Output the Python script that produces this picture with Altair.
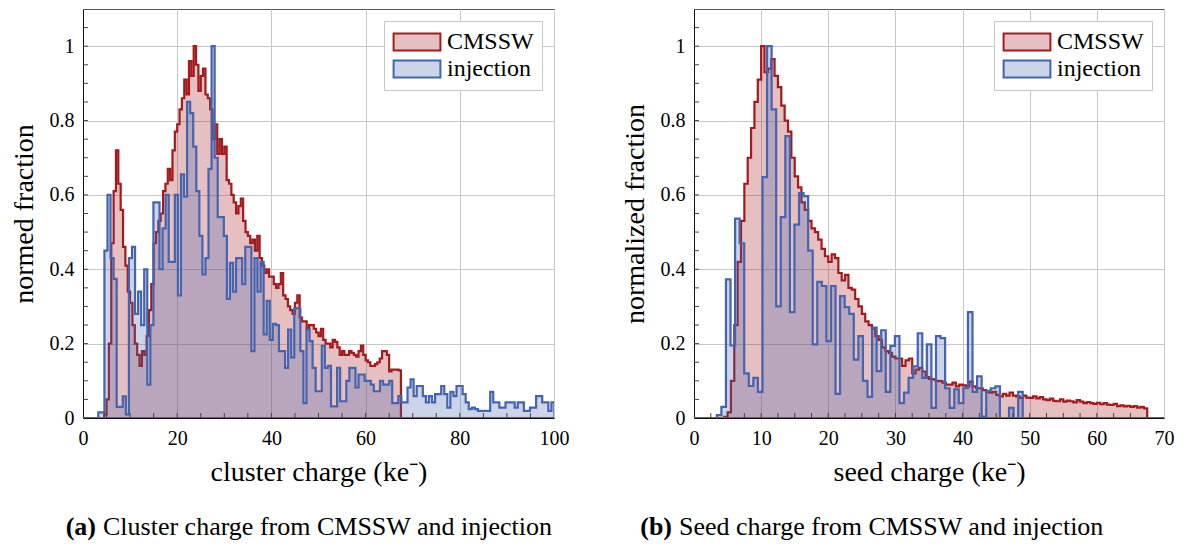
import altair as alt
import pandas as pd

FONT = "Liberation Serif"
SERIES = ["CMSSW", "injection"]
STROKES = ["#a31a1d", "#4464b0"]
FILLS = ["rgba(166,28,31,0.28)", "rgba(68,100,176,0.28)"]

# ---------------- panel (a): cluster charge ----------------
A_CMSSW_W = 0.5
A_CMSSW = [
    0, 0, 0, 0, 0, 0, 0, 0, 0, 0.01,
    0.05, 0.20, 0.47, 0.61, 0.72, 0.63, 0.56, 0.46, 0.41, 0.34,
    0.31, 0.25, 0.20, 0.17, 0.14, 0.18, 0.17, 0.22, 0.29, 0.36,
    0.47, 0.50, 0.53, 0.55, 0.61, 0.63, 0.67, 0.64, 0.72, 0.77,
    0.79, 0.83, 0.86, 0.91, 0.87, 0.96, 0.92, 1.00, 0.95, 0.88,
    0.92, 0.94, 0.87, 0.86, 0.83, 0.75, 0.79, 0.71, 0.75, 0.71,
    0.73, 0.64, 0.63, 0.60, 0.58, 0.55, 0.57, 0.59, 0.53, 0.50,
    0.49, 0.47, 0.48, 0.45, 0.49, 0.43, 0.41, 0.39, 0.40, 0.38,
    0.38, 0.36, 0.35, 0.36, 0.39, 0.33, 0.32, 0.30, 0.29, 0.28,
    0.31, 0.33, 0.27, 0.26, 0.26, 0.24, 0.25, 0.25, 0.24, 0.23,
    0.22, 0.24, 0.21, 0.20, 0.20, 0.19, 0.21, 0.205, 0.19, 0.17,
    0.18, 0.17, 0.17, 0.18, 0.175, 0.17, 0.165, 0.18, 0.195, 0.17,
    0.155, 0.15, 0.14, 0.14, 0.145, 0.15, 0.16, 0.18, 0.18, 0.17,
    0.125, 0.13, 0.13, 0.13, 0.128,
]
A_INJ_W = 0.65
A_INJ = [
    0, 0, 0, 0, 0, 0.015, 0.015,
    0.45, 0.60, 0.43, 0.374, 0.03, 0.03, 0.058, 0.01, 0.43, 0.46,
    0.28, 0.34, 0.25, 0.40, 0.09, 0.25, 0.58, 0.58, 0.40, 0.51,
    0.60, 0.42, 0.42, 0.60, 0.33, 0.655, 0.595, 0.85, 0.82, 0.73,
    0.61, 0.49, 0.386, 0.43, 0.67,
    1.00, 0.70, 0.54, 0.54, 0.49, 0.32, 0.417, 0.34, 0.43, 0.43,
    0.36, 0.46, 0.46, 0.18, 0.43, 0.34, 0.42, 0.225, 0.315, 0.21,
    0.253, 0.25, 0.18, 0.18, 0.135, 0.238, 0.163, 0.295, 0.295, 0.18,
    0.04, 0.238, 0.207, 0.135, 0.072, 0.072, 0.194, 0.135, 0.14, 0.031,
    0.031, 0.135, 0.045, 0.045, 0.10, 0.135, 0.135, 0.082, 0.117, 0.117,
    0.10, 0.10, 0.09, 0.072, 0.072, 0.10, 0.09, 0.09, 0.10, 0.04, 0.04,
    0.059, 0.042, 0.042, 0.082, 0.104, 0.059, 0.086, 0.086, 0.059, 0.042,
    0.059, 0.042, 0.064, 0.064, 0.086, 0.064, 0.028, 0.07, 0.059, 0.086,
    0.086, 0.064, 0.042, 0.024, 0.028, 0.024, 0.019, 0.019, 0.019, 0.019,
    0.07, 0.042, 0.042, 0.028, 0.028, 0.042, 0.042, 0.042, 0.028, 0.042,
    0.042, 0.019, 0.019, 0.028, 0.028, 0.059, 0.059, 0.042, 0.042, 0.019,
    0.042,
]

# ---------------- panel (b): seed charge ----------------
B_CMSSW_W = 0.5
B_CMSSW = [
    0, 0, 0, 0, 0, 0, 0, 0, 0, 0.003,
    0.015, 0.10, 0.25, 0.42, 0.53, 0.63, 0.70, 0.78, 0.85, 0.91,
    1.00, 0.93, 0.94, 0.965, 0.92, 0.89, 0.84, 0.80, 0.77, 0.70,
    0.65, 0.62, 0.58, 0.56, 0.53, 0.51, 0.50, 0.48, 0.455, 0.435,
    0.42, 0.44, 0.43, 0.39, 0.37, 0.385, 0.35, 0.345, 0.32, 0.30,
    0.28, 0.26, 0.25, 0.24, 0.22, 0.21, 0.19, 0.18, 0.175, 0.165,
    0.16, 0.16, 0.14, 0.155, 0.16, 0.12, 0.13, 0.135, 0.125, 0.11,
    0.105, 0.104, 0.10, 0.099, 0.095, 0.09, 0.09, 0.095, 0.085, 0.09,
    0.088, 0.085, 0.098, 0.085, 0.08, 0.08, 0.075, 0.07, 0.068, 0.07,
    0.062, 0.058, 0.065, 0.06, 0.068, 0.06, 0.058, 0.054, 0.06, 0.055,
    0.054, 0.058, 0.053, 0.056, 0.05, 0.048, 0.052, 0.046, 0.045, 0.05,
    0.044, 0.047, 0.045, 0.042, 0.048, 0.044, 0.04, 0.043, 0.04, 0.038,
    0.041, 0.037, 0.04, 0.036, 0.035, 0.038, 0.032, 0.034, 0.031, 0.033,
    0.03, 0.032, 0.028, 0.03, 0.026,
]
B_INJ_W = 0.68
B_INJ = [
    0, 0, 0, 0, 0, 0.008, 0.03,
    0.373, 0.195, 0.536, 0.47, 0.12, 0.086, 0.108, 0.07, 0.648, 1.00,
    0.83, 0.30, 0.54, 0.758, 0.285, 0.52, 0.605, 0.597, 0.45, 0.198,
    0.366, 0.355, 0.207, 0.355, 0.065, 0.328, 0.298, 0.28, 0.157, 0.22,
    0.10, 0.057, 0.243, 0.126, 0.236, 0.07, 0.194, 0.22, 0.04, 0.068,
    0.108, 0.139, 0.228, 0.108, 0.198, 0.027, 0.22, 0.215, 0.08, 0.027,
    0.077, 0.04, 0.08, 0.285, 0.07, 0.112, 0.004, 0.073, 0.08, 0.085,
    0, 0, 0.027, 0, 0.07,
] + [0.0] * 31

Y_TICKS = [0, 0.2, 0.4, 0.6, 0.8, 1.0]
A_X_TICKS = [0, 20, 40, 60, 80, 100]
B_X_TICKS = [0, 10, 20, 30, 40, 50, 60, 70]

W_A, W_B, H = 471, 470, 409

RECT = "M-1.95,-0.7H1.95V0.7H-1.95Z"


def steps(values, width, name):
    xs = [round(i * width, 4) for i in range(len(values) + 1)]
    ys = list(values) + [0.0]
    return pd.DataFrame({"x": xs, "y": ys, "series": name})


def panel(df, xmax, xticks, minor_step, width, xtitle, ytitle, tag, caption, tag_x):
    xscale = alt.Scale(domain=[0, xmax], nice=False, zero=False)
    yscale = alt.Scale(domain=[0, 1.1], nice=False)
    xaxis = alt.Axis(values=xticks, title=xtitle, grid=True, ticks=False,
                     labelFlush=False, labelPadding=10, titlePadding=10)
    yaxis = alt.Axis(values=Y_TICKS, format="~g", title=ytitle, grid=True, ticks=False,
                     labelFlush=False, labelPadding=9, titlePadding=11)
    legend = alt.Legend(
        title=None, orient="top-right", offset=12,
        fillColor="white", strokeColor="#c8c8c8", padding=8,
        symbolType=RECT, symbolSize=576, symbolStrokeWidth=2,
        symbolOffset=12, labelOffset=17, rowPadding=1,
        labelFont=FONT, labelFontSize=24, labelColor="black",
    )
    hist = alt.Chart(df).mark_area(
        interpolate="step-after", strokeWidth=2.2, clip=True, fillOpacity=1
    ).encode(
        x=alt.X("x:Q", scale=xscale, axis=xaxis),
        y=alt.Y("y:Q", stack=None, scale=yscale, axis=yaxis),
        fill=alt.Fill("series:N", scale=alt.Scale(domain=SERIES, range=FILLS), legend=legend),
        stroke=alt.Stroke("series:N", scale=alt.Scale(domain=SERIES, range=STROKES), legend=legend),
    )
    nx = int(round(xmax / minor_step))
    xminor = pd.DataFrame({"x": [minor_step * i for i in range(1, nx)]})
    yminor = pd.DataFrame({"y": [round(0.05 * i, 2) for i in range(1, 22)]})
    xt = alt.Chart(xminor).mark_rule(color="#444", strokeWidth=1).encode(
        x=alt.X("x:Q", scale=xscale, axis=xaxis), y=alt.value(H), y2=alt.value(H - 5))
    yt = alt.Chart(yminor).mark_rule(color="#444", strokeWidth=1).encode(
        y=alt.Y("y:Q", scale=yscale, axis=yaxis), x=alt.value(0), x2=alt.value(5))
    cap_tag = alt.Chart(pd.DataFrame({"t": [tag]})).mark_text(
        font=FONT, fontSize=26, fontWeight="bold", align="right", baseline="middle", color="black"
    ).encode(text="t:N", x=alt.value(tag_x), y=alt.value(518))
    cap_txt = alt.Chart(pd.DataFrame({"t": [caption]})).mark_text(
        font=FONT, fontSize=26, align="left", baseline="middle", color="black"
    ).encode(text="t:N", x=alt.value(tag_x + 7), y=alt.value(518))
    return alt.layer(hist, xt, yt, cap_tag, cap_txt).properties(width=width, height=H)


left = panel(pd.concat([steps(A_CMSSW, A_CMSSW_W, "CMSSW"), steps(A_INJ, A_INJ_W, "injection")],
                       ignore_index=True),
             100, A_X_TICKS, 5, W_A, "cluster charge (ke⁻)", "normed fraction",
             "(a)", "Cluster charge from CMSSW and injection", 13)
right = panel(pd.concat([steps(B_CMSSW, B_CMSSW_W, "CMSSW"), steps(B_INJ, B_INJ_W, "injection")],
                        ignore_index=True),
              70, B_X_TICKS, 2.5, W_B, "seed charge (ke⁻)", "normalized fraction",
              "(b)", "Seed charge from CMSSW and injection", -22)

chart = alt.hconcat(left, right, spacing=50).resolve_scale(
    x="independent", y="independent", fill="independent", stroke="independent"
).resolve_legend(fill="independent", stroke="independent").properties(
    padding={"left": 1, "top": 0, "right": 0, "bottom": 0}
).configure_view(stroke="#555", strokeWidth=1).configure_axis(
    labelFont=FONT, titleFont=FONT, labelFontSize=20, titleFontSize=28,
    titleFontWeight="normal", labelColor="black", titleColor="black",
    domainColor="#111", gridColor="#c8c8c8", gridWidth=1,
)

chart.save("out.html", embed_options={"renderer": "svg", "actions": False})
